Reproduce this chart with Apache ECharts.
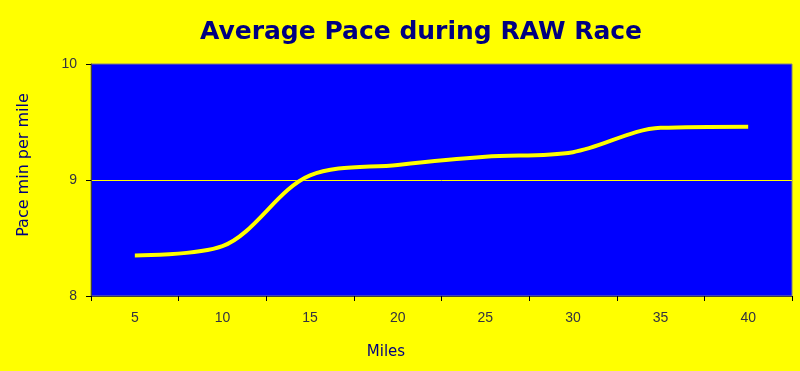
<!DOCTYPE html>
<html>
<head>
<meta charset="utf-8">
<script src="https://cdn.jsdelivr.net/npm/echarts@6/dist/echarts.min.js"></script>
<style>
html,body{margin:0;padding:0;background:#ffff00;}
#chart{width:800px;height:371px;}
</style>
</head>
<body>
<div id="chart"></div>
<script>
const miles = ['5','10','15','20','25','30','35','40'];
const pace = [8.35, 8.43, 9.04, 9.13, 9.20, 9.24, 9.45, 9.46];
const yTicks = {min: 8, max: 10, interval: 1};

const chart = echarts.init(document.getElementById('chart'), null, {renderer: 'canvas'});
chart.setOption({
  backgroundColor: '#ffff00',
  animation: false,
  title: {
    text: 'Average Pace during RAW Race',
    left: 416, top: 15, textAlign: 'center',
    textStyle: {fontFamily: 'DejaVu Sans', fontWeight: 'bold', fontSize: 25, color: '#000080'}
  },
  grid: {
    left: 91, top: 64, right: 8, bottom: 75,
    show: true, backgroundColor: '#0000ff', borderColor: '#808080', borderWidth: 1
  },
  xAxis: {
    type: 'category', data: miles, boundaryGap: true,
    axisLine: {lineStyle: {color: '#404040', width: 1}},
    axisTick: {show: true, length: 5, lineStyle: {color: '#000000'}},
    axisLabel: {margin: 15, color: '#333340', fontFamily: 'Liberation Sans', fontSize: 14},
    splitLine: {show: false}
  },
  yAxis: {
    type: 'value', min: yTicks.min, max: yTicks.max, interval: yTicks.interval,
    axisLine: {show: true, lineStyle: {color: '#404040', width: 1}},
    axisTick: {show: true, length: 5, lineStyle: {color: '#000000'}},
    axisLabel: {margin: 14, color: '#333340', fontFamily: 'Liberation Sans', fontSize: 14},
    splitLine: {show: true, lineStyle: {color: ['rgba(0,0,0,0)', '#ffff00', 'rgba(0,0,0,0)'], width: 1}}
  },
  graphic: [
    {type: 'text', x: 24, y: 165, rotation: Math.PI / 2,
     style: {text: 'Pace min per mile', fill: '#000080', font: '16px "DejaVu Sans"', textAlign: 'center', textVerticalAlign: 'middle'}},
    {type: 'text', x: 386, y: 352,
     style: {text: 'Miles', fill: '#000080', font: '15px "DejaVu Sans"', textAlign: 'center', textVerticalAlign: 'middle'}}
  ],
  series: [{
    type: 'line', data: pace, smooth: 0.33, showSymbol: false,
    lineStyle: {color: '#ffff00', width: 4, shadowColor: 'rgba(0,0,60,0.5)', shadowBlur: 1},
    itemStyle: {color: '#ffff00'}
  }]
});
</script>
</body>
</html>
